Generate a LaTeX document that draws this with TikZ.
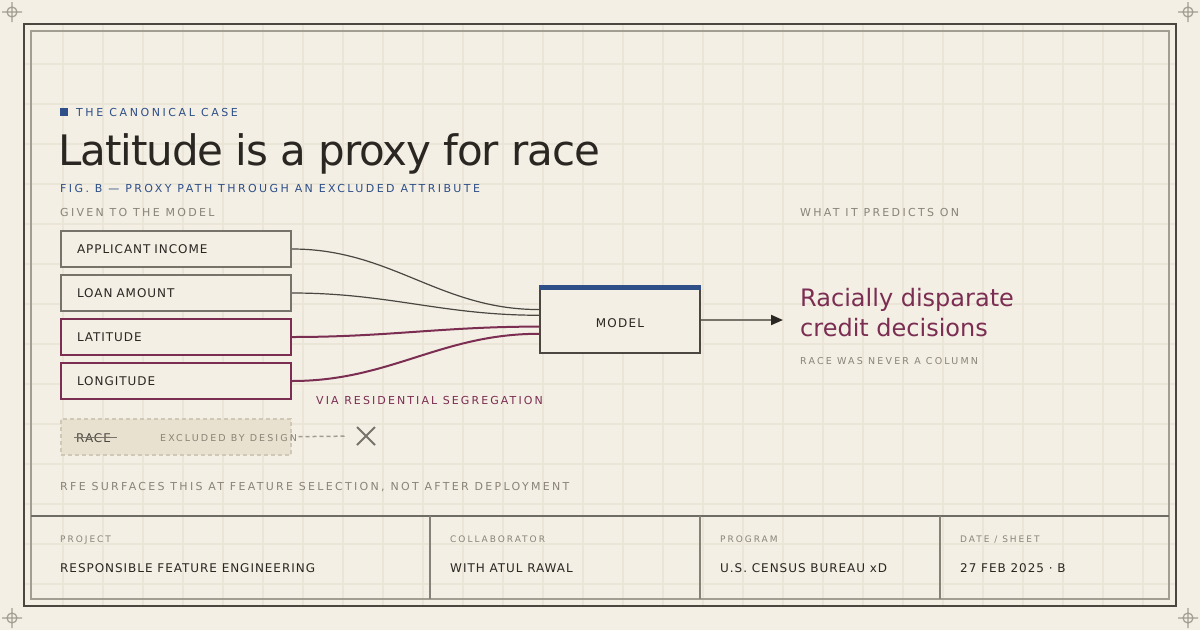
\documentclass[tikz,border=0pt]{standalone}
\usepackage{fontspec}
\setmainfont{DejaVu Sans}
\usetikzlibrary{arrows.meta, shapes.misc}
\definecolor{paper}{HTML}{F3EFE4}
\definecolor{gridc}{HTML}{EBE5D7}
\definecolor{ink}{HTML}{2A2622}
\definecolor{frame}{HTML}{4B4740}
\definecolor{soft}{HTML}{A39E92}
\definecolor{muted}{HTML}{8A8478}
\definecolor{boxgrey}{HTML}{77736A}
\definecolor{navy}{HTML}{2E4F88}
\definecolor{plum}{HTML}{7B2D52}
\definecolor{veil}{HTML}{E8E1CF}
\definecolor{veilline}{HTML}{D0C8B6}

\begin{document}
\begin{tikzpicture}[x=1pt, y=-1pt, >={Triangle[length=12pt, width=10pt, color=ink]},
    tag/.style={anchor=base west, inner sep=0pt, text=muted, font=\fontsize{11}{13}\selectfont\addfontfeatures{LetterSpace=21}},
    small/.style={tag, font=\fontsize{9}{11}\selectfont\addfontfeatures{LetterSpace=22}},
    value/.style={anchor=base west, inner sep=0pt, text=ink, font=\fontsize{12}{14}\selectfont\addfontfeatures{LetterSpace=8}},
    input/.style={draw=boxgrey, line width=2pt, fill=paper, anchor=north west, minimum height=36pt, text width=198pt, inner xsep=16pt, inner ysep=0pt, align=left, text=ink, font=\fontsize{12}{14}\selectfont\addfontfeatures{LetterSpace=8}},
    proxy/.style={input, draw=plum},
    feed/.style={draw=ink!85, line width=1.2pt},
    leak/.style={draw=plum, line width=2pt}]

    \useasboundingbox (0,0) rectangle (1200,630);
    \fill[paper] (0,0) rectangle (1200,630);
    \begin{scope}
        \clip (24,24) rectangle (1176,606);
        \foreach \gx in {63,103,...,1143} \draw[gridc, line width=1.2pt] (\gx,24) -- (\gx,606);
        \foreach \gy in {64,104,...,584} \draw[gridc, line width=1.2pt] (24,\gy) -- (1176,\gy);
    \end{scope}
    \foreach \cx/\cy in {12/12, 1188/12, 12/618, 1188/618}
        \draw[soft, line width=1.2pt] (\cx,\cy) circle[radius=5] (\cx-10,\cy) -- (\cx+10,\cy) (\cx,\cy-10) -- (\cx,\cy+10);
    \draw[frame, line width=2.5pt] (24,24) rectangle (1176,606);
    \draw[soft, line width=2pt] (31,31) rectangle (1169,599);

    \fill[navy] (60,108) rectangle (68,116);
    \node[tag, text=navy, font=\fontsize{11}{13}\selectfont\addfontfeatures{LetterSpace=23.5}] (h) at (76,116) {THE CANONICAL CASE};
    \node[anchor=base west, inner sep=0pt, text=ink, font=\fontsize{42}{48}\selectfont\addfontfeatures{LetterSpace=-2.6}] (t) at (58,165) {Latitude is a proxy for race};
    \node[tag, text=navy, font=\fontsize{11}{13}\selectfont\addfontfeatures{LetterSpace=22}] (f) at (60,192) {FIG. B — PROXY PATH THROUGH AN EXCLUDED ATTRIBUTE};
    \node[tag] (g) at (60,216) {GIVEN TO THE MODEL};
    \node[tag] (w) at (800,216) {WHAT IT PREDICTS ON};

    \node[input] (0) at (60,230) {APPLICANT INCOME};
    \node[input] (1) at (60,274) {LOAN AMOUNT};
    \node[proxy] (2) at (60,318) {LATITUDE};
    \node[proxy] (3) at (60,362) {LONGITUDE};

    \node[draw=frame, line width=2pt, fill=paper, minimum width=160pt, minimum height=67pt, text=ink, font=\fontsize{12}{14}\selectfont\addfontfeatures{LetterSpace=10}] (5) at (620,319.5) {\raisebox{-3.6pt}[\height][0pt]{MODEL}};
    \fill[navy] (5.north west) rectangle ([yshift=-5pt]5.north east);

    \path (0.east) edge[feed, out=0, in=180] (5.173)
          (1.east) edge[feed, out=0, in=180] (5.177.5)
          (2.east) edge[leak, out=0, in=180] (5.185.4)
          (3.east) edge[leak, out=0, in=180] (5.190.3);

    \coordinate (7) at (783,320);
    \draw[->, boxgrey, line width=2pt] (5.east |- 7) -- (7);

    \node[anchor=north west, inner sep=0pt, align=left, text=plum, font=\fontsize{24}{30}\selectfont] (6) at (800,288) {Racially disparate\\credit decisions};
    \node[small, font=\fontsize{9.5}{11}\selectfont\addfontfeatures{LetterSpace=23}] (r) at (800,364) {RACE WAS NEVER A COLUMN};
    \node[tag, text=plum, font=\fontsize{11}{13}\selectfont\addfontfeatures{LetterSpace=19}] (v) at (316,404) {VIA RESIDENTIAL SEGREGATION};

    \node[draw=veilline, fill=veil, dash pattern=on 4pt off 3pt, line width=1.5pt, anchor=north west, minimum width=230pt, minimum height=36pt] (8) at (60,418) {};
    \node[value, text=frame] (9) at (76,442) {RACE};
    \draw[boxgrey, line width=1.5pt] ([xshift=-2pt]9.west) -- ([xshift=6pt]9.east);
    \node[small, font=\fontsize{9.5}{11}\selectfont\addfontfeatures{LetterSpace=22}] (10) at (160,441) {EXCLUDED BY DESIGN};
    \node[cross out, draw=boxgrey, line width=2pt, minimum size=16pt, inner sep=0pt] (11) at (366,436) {};
    \draw[muted!80, line width=1.5pt, dash pattern=on 4pt off 3pt, shorten <=7pt, shorten >=12pt] (8.east) -- (11.west);

    \node[tag] (n) at (60,490) {RFE SURFACES THIS AT FEATURE SELECTION, NOT AFTER DEPLOYMENT};

    \draw[frame!80, line width=2pt] (31,516) -- (1169,516);
    \draw[boxgrey!90, line width=1.5pt] (430,516) -- (430,599) (700,516) -- (700,599) (940,516) -- (940,599);
    \node[small] (p) at (60,542) {PROJECT};
    \node[small] (c) at (450,542) {COLLABORATOR};
    \node[small] (g2) at (720,542) {PROGRAM};
    \node[small] (d) at (960,542) {DATE / SHEET};
    \node[value] (pv) at (60,572) {RESPONSIBLE FEATURE ENGINEERING};
    \node[value] (cv) at (450,572) {WITH ATUL RAWAL};
    \node[value] (gv) at (720,572) {U.S. CENSUS BUREAU xD};
    \node[value] (dv) at (960,572) {27 FEB 2025 · B};
\end{tikzpicture}
\end{document}
